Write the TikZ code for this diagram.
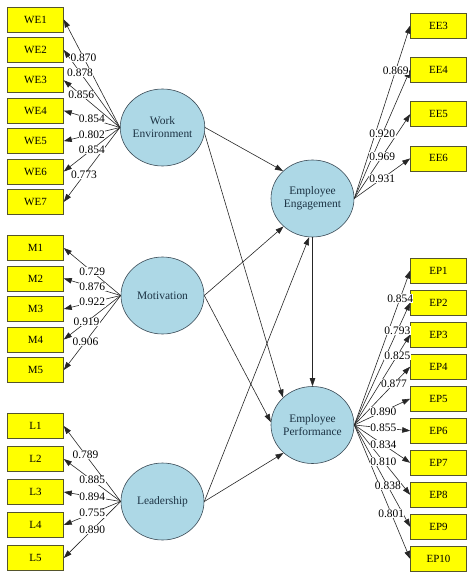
\documentclass[tikz,border=0pt]{standalone}
\usepackage{fontspec}
\setmainfont{Liberation Serif}
\usetikzlibrary{arrows.meta,shapes.geometric}
\definecolor{boxyellow}{HTML}{FFFF00}
\definecolor{boxline}{HTML}{55552B}
\definecolor{latfill}{HTML}{ADD8E6}
\definecolor{latline}{HTML}{3A4A55}
\definecolor{lattext}{HTML}{1C3344}
\tikzset{
  ind/.style={draw=boxline, fill=boxyellow, minimum width=56bp, minimum height=25bp,
    inner sep=0pt, line width=0.6bp, font=\fontsize{11}{13}\selectfont},
  lat/.style={ellipse, draw=latline, fill=latfill, minimum width=83bp, minimum height=77bp,
    inner sep=0pt, line width=0.6bp, align=center, text=lattext,
    font=\fontsize{11.5}{13}\selectfont},
  arr/.style={-{Triangle[length=8bp,width=5.5bp]}, line width=0.6bp, draw=black!85},
  lbl/.style={fill=white, inner sep=0.4bp, font=\fontsize{11.5}{13}\selectfont}
}
\begin{document}
\begin{tikzpicture}[x=1bp,y=-1bp]
\useasboundingbox (0,0) rectangle (474,578);
% latent variables
\node[lat] (WE) at (162.5,127.5) {Work\\Environment};
\node[lat] (MO) at (162.5,295.5) {Motivation};
\node[lat] (LE) at (162.5,501.5) {Leadership};
\node[lat] (EE) at (312.5,198.5) {Employee\\Engagement};
\node[lat] (EP) at (312.5,425) {Employee\\Performance};
% indicators
\foreach \i in {1,...,7} \node[ind] (WE\i) at (35.5,{19.5+30.4*(\i-1)}) {WE\i};
\foreach \i in {1,...,5} \node[ind] (M\i) at (35.5,{248+30.5*(\i-1)}) {M\i};
\foreach \i in {1,...,5} \node[ind] (L\i) at (35.5,{426+33*(\i-1)}) {L\i};
\foreach \i in {3,...,6} \node[ind] (EE\i) at (438.5,{25.5+44.3*(\i-3)}) {EE\i};
\foreach \i in {1,...,10} \node[ind] (EP\i) at (438.5,{270.5+32.05*(\i-1)}) {EP\i};
% measurement connectors
\foreach \i/\p in {1/0.65,2/0.71,3/0.69,4/0.5,5/0.5,6/0.5,7/0.64}
  \draw[arr] (WE.west) -- (WE\i.east) coordinate[pos=\p] (wl\i);
\foreach \i/\p in {1/0.5,2/0.5,3/0.5,4/0.6,5/0.62}
  \draw[arr] (MO.west) -- (M\i.east) coordinate[pos=\p] (ml\i);
\foreach \i/\p in {1/0.62,2/0.5,3/0.5,4/0.5,5/0.5}
  \draw[arr] (LE.west) -- (L\i.east) coordinate[pos=\p] (ll\i);
\foreach \i/\p in {3/0.74,4/0.5,5/0.5,6/0.5}
  \draw[arr] (EE.east) -- (EE\i.west) coordinate[pos=\p] (el\i);
\foreach \i/\p in {1/0.82,2/0.77,3/0.77,4/0.71,5/0.52,6/0.52,7/0.52,8/0.52,9/0.6,10/0.66}
  \draw[arr] (EP.east) -- (EP\i.west) coordinate[pos=\p] (pl\i);
% structural connectors
\draw[arr] (WE.east) -- (EE.137);
\draw[arr] (WE.-8) -- (EP.137);
\draw[arr] (MO.east) -- (EE.224);
\draw[arr] (MO.east) -- (EP.176);
\draw[arr] (LE.east) -- (EE.265);
\draw[arr] (LE.east) -- (EP.224);
\draw[arr] (EE.south) -- (EP.north);
% loading labels
\foreach \i/\v in {1/0.870,2/0.878,3/0.856,4/0.854,5/0.802,6/0.854,7/0.773}
  \node[lbl] at (wl\i) {\v};
\foreach \i/\v in {1/0.729,2/0.876,3/0.922,4/0.919,5/0.906}
  \node[lbl] at (ml\i) {\v};
\foreach \i/\v in {1/0.789,2/0.885,3/0.894,4/0.755,5/0.890}
  \node[lbl] at (ll\i) {\v};
\foreach \i/\v in {3/0.869,4/0.920,5/0.969,6/0.931}
  \node[lbl] at (el\i) {\v};
\foreach \i/\v in {1/0.854,2/0.793,3/0.825,4/0.877,5/0.890,6/0.855,7/0.834,8/0.810,9/0.838,10/0.801}
  \node[lbl] at (pl\i) {\v};
\end{tikzpicture}
\end{document}
